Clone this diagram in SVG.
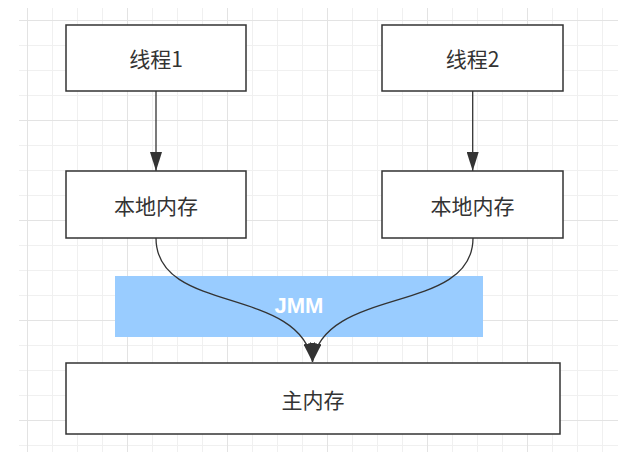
<svg xmlns="http://www.w3.org/2000/svg" width="622" height="476" viewBox="0 0 622 476">
  <style>
    .box { fill: #ffffff; stroke: #333333; stroke-width: 1.5; }
    .lbl { font-family: "Noto Sans CJK SC", "Liberation Sans", sans-serif; font-size: 21px; fill: #333333; text-anchor: middle; dominant-baseline: central; }
    .edge { fill: none; stroke: #333333; stroke-width: 1.3; marker-end: url(#arrow); }
  </style>
  <defs>
    <pattern id="grid" patternUnits="userSpaceOnUse" x="27" y="20" width="100" height="100">
      <path d="M25.5 0V100M50.5 0V100M75.5 0V100M0 25.5H100M0 50.5H100M0 75.5H100" stroke="#f0f0f0" stroke-width="1" fill="none"/>
      <path d="M0.5 0V100M0 0.5H100" stroke="#e3e3e3" stroke-width="1" fill="none"/>
    </pattern>
    <marker id="arrow" markerUnits="userSpaceOnUse" markerWidth="19" markerHeight="12" refX="19" refY="6" orient="auto">
      <path d="M0,0 L19,6 L0,12 Z" fill="#333333"/>
    </marker>
  </defs>
  <rect x="0" y="0" width="622" height="476" fill="#ffffff"/>
  <rect x="19" y="8" width="599" height="444" fill="url(#grid)"/>

  <g id="jmm">
    <rect x="115" y="276" width="368" height="61" fill="#99ccff"/>
    <text x="299" y="313" font-family="Liberation Sans, Arial, sans-serif" font-size="22" font-weight="bold" fill="#ffffff" text-anchor="middle">JMM</text>
  </g>

  <g id="thread1">
    <rect class="box" x="66" y="25" width="180" height="66"/>
    <text class="lbl" x="156" y="58">线程1</text>
  </g>
  <g id="thread2">
    <rect class="box" x="382" y="25" width="181" height="66"/>
    <text class="lbl" x="472.5" y="58">线程2</text>
  </g>
  <g id="local1">
    <rect class="box" x="66" y="171" width="180" height="67"/>
    <text class="lbl" x="156" y="204.5">本地内存</text>
  </g>
  <g id="local2">
    <rect class="box" x="382" y="171" width="181" height="67"/>
    <text class="lbl" x="472.5" y="204.5">本地内存</text>
  </g>
  <g id="main">
    <rect class="box" x="66" y="363" width="494" height="71"/>
    <text class="lbl" x="313" y="398.5">主内存</text>
  </g>

  <g id="connectors">
    <path class="edge" d="M156,91 L156,171"/>
    <path class="edge" d="M472.7,91 L472.7,171"/>
    <path class="edge" d="M156,238 C156,315 300,285 312.5,362"/>
    <path class="edge" d="M473,238 C473,315 325,285 312.5,362"/>
  </g>
</svg>
